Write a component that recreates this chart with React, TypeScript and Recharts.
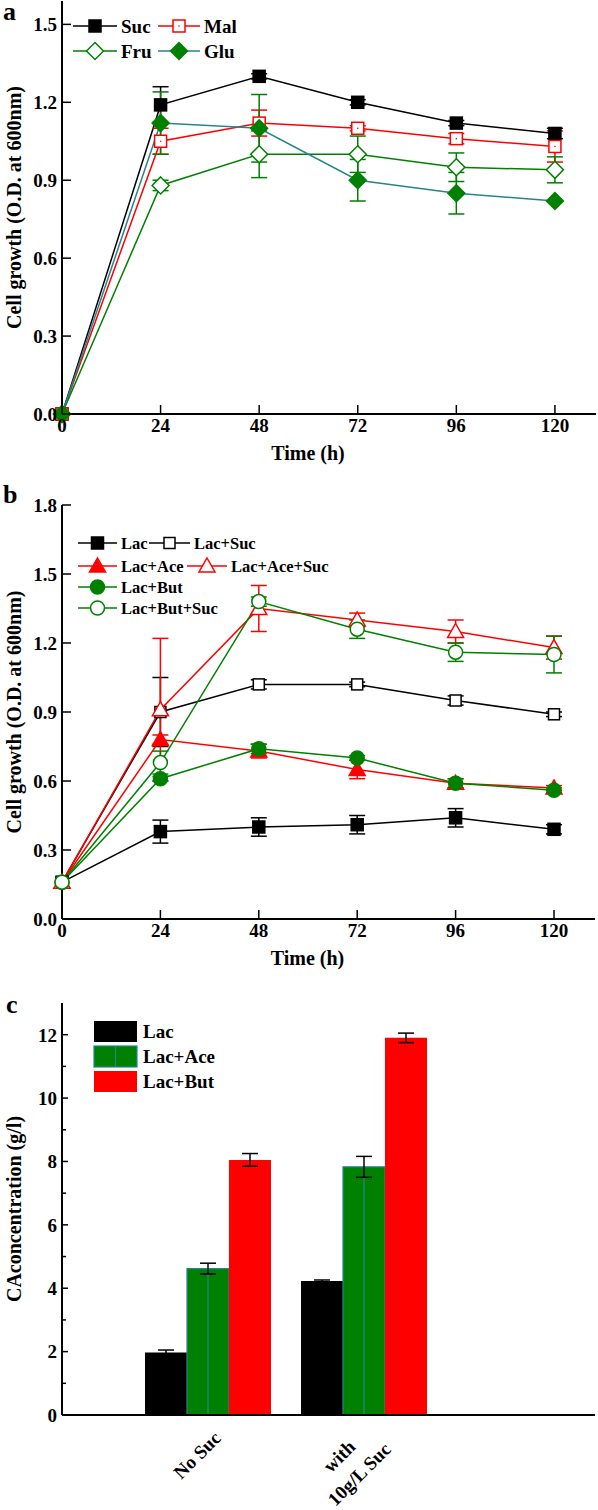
import React from "react";
import { Bar, BarChart, ErrorBar, Line, LineChart, XAxis, YAxis } from "recharts";

const FONT = "'Liberation Serif', 'Times New Roman', serif";

// shared time points (h)
const hours = [0, 24, 48, 72, 96, 120];

// panel a: growth on single sugars
const suc = [0, 1.19, 1.3, 1.2, 1.12, 1.08];
const sucErr = [0, 0.07, 0.01, 0.01, 0.01, 0.02];
const mal = [0, 1.05, 1.12, 1.1, 1.06, 1.03];
const malErr = [0, 0.05, 0.05, 0.01, 0.02, 0.06];
const fru = [0, 0.88, 1.0, 1.0, 0.95, 0.94];
const fruErr = [0, 0.02, 0.09, 0.07, 0.055, 0.05];
const glu = [0, 1.12, 1.1, 0.9, 0.85, 0.82];
const gluErr = [0, 0.12, 0.13, 0.08, 0.08, 0];

// panel b: lactate mixes
const lac = [0.16, 0.38, 0.4, 0.41, 0.44, 0.39];
const lacErr = [0, 0.05, 0.04, 0.04, 0.04, 0.02];
const lacSuc = [0.16, 0.9, 1.02, 1.02, 0.95, 0.89];
const lacSucErr = [0, 0.15, 0.02, 0.01, 0.02, 0.01];
const lacAce = [0.16, 0.78, 0.73, 0.65, 0.59, 0.57];
const lacAceErr = [0, 0.02, 0.03, 0.04, 0.02, 0.01];
const lacAceSuc = [0.16, 0.91, 1.35, 1.3, 1.25, 1.18];
const lacAceSucErr = [0, 0.31, 0.1, 0.03, 0.05, 0.05];
const lacBut = [0.16, 0.61, 0.74, 0.7, 0.59, 0.56];
const lacButErr = [0, 0.01, 0.02, 0.01, 0.02, 0.01];
const lacButSuc = [0.16, 0.68, 1.38, 1.26, 1.16, 1.15];
const lacButSucErr = [0, 0.05, 0.02, 0.04, 0.04, 0.08];

// panel c: CA concentration (g/l)
const groups = ["No Suc", "with\n10g/L Suc"];
const caLac = [1.97, 4.23];
const caLacErr = [0.08, 0.03];
const caAce = [4.62, 7.83];
const caAceErr = [0.17, 0.33];
const caBut = [8.05, 11.9];
const caButErr = [0.2, 0.15];

const timeTicks = [0, 24, 48, 72, 96, 120];
const yTicksA = [0, 0.3, 0.6, 0.9, 1.2, 1.5];
const yTicksB = [0, 0.3, 0.6, 0.9, 1.2, 1.5, 1.8];
const yTicksC = [0, 1, 2, 3, 4, 5, 6, 7, 8, 9, 10, 11, 12];

const dataA = hours.map((h, i) => ({
  h,
  suc: suc[i], sucErr: sucErr[i],
  mal: mal[i], malErr: malErr[i],
  fru: fru[i], fruErr: fruErr[i],
  glu: glu[i], gluErr: gluErr[i],
}));

const dataB = hours.map((h, i) => ({
  h,
  lac: lac[i], lacErr: lacErr[i],
  lacSuc: lacSuc[i], lacSucErr: lacSucErr[i],
  lacAce: lacAce[i], lacAceErr: lacAceErr[i],
  lacAceSuc: lacAceSuc[i], lacAceSucErr: lacAceSucErr[i],
  lacBut: lacBut[i], lacButErr: lacButErr[i],
  lacButSuc: lacButSuc[i], lacButSucErr: lacButSucErr[i],
}));

const dataC = groups.map((g, i) => ({
  g,
  lac: caLac[i], lacErr: caLacErr[i],
  ace: caAce[i], aceErr: caAceErr[i],
  but: caBut[i], butErr: caButErr[i],
}));

const RED = "#ff0000";
const GREEN = "#008000";
const TEAL = "#23858f";

type Kind = "square" | "diamond" | "triangle" | "circle";
interface Style {
  key: string;
  name: string;
  line: string;
  color: string;
  kind: Kind;
  filled: boolean;
  size: number;
  centerDot?: boolean;
}

const seriesA: Style[] = [
  { key: "suc", name: "Suc", line: "#000", color: "#000", kind: "square", filled: true, size: 12 },
  { key: "mal", name: "Mal", line: RED, color: RED, kind: "square", filled: false, size: 12, centerDot: true },
  { key: "fru", name: "Fru", line: GREEN, color: GREEN, kind: "diamond", filled: false, size: 17 },
  { key: "glu", name: "Glu", line: TEAL, color: GREEN, kind: "diamond", filled: true, size: 17 },
];

const seriesB: Style[] = [
  { key: "lac", name: "Lac", line: "#000", color: "#000", kind: "square", filled: true, size: 12 },
  { key: "lacSuc", name: "Lac+Suc", line: "#000", color: "#000", kind: "square", filled: false, size: 11 },
  { key: "lacAce", name: "Lac+Ace", line: RED, color: RED, kind: "triangle", filled: true, size: 16 },
  { key: "lacAceSuc", name: "Lac+Ace+Suc", line: RED, color: RED, kind: "triangle", filled: false, size: 16 },
  { key: "lacBut", name: "Lac+But", line: GREEN, color: GREEN, kind: "circle", filled: true, size: 14 },
  { key: "lacButSuc", name: "Lac+But+Suc", line: GREEN, color: GREEN, kind: "circle", filled: false, size: 14 },
];

function Marker({ cx, cy, s }: { cx: number; cy: number; s: Style }) {
  if (cx == null || cy == null) return null;
  const fill = s.filled ? s.color : "#fff";
  const h = s.size / 2;
  const common = { fill, stroke: s.color, strokeWidth: 1.5 };
  if (s.kind === "square") {
    return (
      <g>
        <rect x={cx - h} y={cy - h} width={s.size} height={s.size} {...common} />
        {s.centerDot && <circle cx={cx} cy={cy} r={0.8} fill={s.color} />}
      </g>
    );
  }
  if (s.kind === "diamond") {
    return <polygon points={`${cx},${cy - h} ${cx + h},${cy} ${cx},${cy + h} ${cx - h},${cy}`} {...common} />;
  }
  if (s.kind === "triangle") {
    return <polygon points={`${cx},${cy - h} ${cx + h},${cy + h * 0.75} ${cx - h},${cy + h * 0.75}`} {...common} />;
  }
  return <circle cx={cx} cy={cy} r={h} {...common} />;
}

const tickText = { fontFamily: FONT, fontWeight: "bold" as const, fontSize: 19, fill: "#000" };

function YTick({ x, y, payload, digits, len, minorLen }: any) {
  const v = payload.value as number;
  const minor = minorLen != null && v % 2 === 1;
  return (
    <g>
      <line x1={x} x2={x + (minor ? minorLen : len)} y1={y} y2={y} stroke="#000" strokeWidth={1.5} />
      {!minor && (
        <text x={x - 5} y={y} dy="0.36em" textAnchor="end" {...tickText}>
          {digits != null ? v.toFixed(digits) : v}
        </text>
      )}
    </g>
  );
}

function XTick({ x, y, payload, len }: any) {
  return (
    <g>
      <line x1={x} x2={x} y1={y} y2={y - len} stroke="#000" strokeWidth={1.5} />
      <text x={x} y={y + 18} textAnchor="middle" {...tickText}>
        {payload.value}
      </text>
    </g>
  );
}

function GroupTick({ x, y, payload }: any) {
  const lines = String(payload.value).split("\n");
  const n = lines.length;
  return (
    <g>
      {lines.map((t, i) => {
        const cx = x - 11 - 14 * (n - 1) + 20 * i;
        const cy = y + 40 + 1 * (n - 1) + 18 * i;
        return (
          <text
            key={i}
            transform={`translate(${cx},${cy}) rotate(-45)`}
            textAnchor="middle"
            dy="0.35em"
            {...tickText}
          >
            {t}
          </text>
        );
      })}
    </g>
  );
}

const titleStyle = { fontFamily: FONT, fontWeight: "bold" as const, fontSize: 20, fill: "#000" };

const yTitle = (text: string) => (props: any) => {
  const vb = props.viewBox || {};
  const cy = (vb.y ?? 0) + (vb.height ?? 0) / 2;
  return (
    <text transform={`translate(14,${cy}) rotate(-90)`} textAnchor="middle" dominantBaseline="central" {...titleStyle}>
      {text}
    </text>
  );
};

const xTitle = (text: string) => (props: any) => {
  const vb = props.viewBox || {};
  const cx = (vb.x ?? 0) + (vb.width ?? 0) / 2 - 21;
  return (
    <text x={cx} y={(vb.y ?? 0) + 46} textAnchor="middle" {...titleStyle}>
      {text}
    </text>
  );
};

const frameAxes = () => [
  <XAxis
    key="top"
    xAxisId="top"
    orientation="top"
    height={0}
    tick={false}
    tickLine={false}
    axisLine={{ stroke: "#000", strokeWidth: 2 }}
  />,
  <YAxis
    key="right"
    yAxisId="right"
    orientation="right"
    width={0}
    tick={false}
    tickLine={false}
    axisLine={{ stroke: "#000", strokeWidth: 2 }}
  />,
];

function LineLegend({ items, fontSize }: { items: { s: Style; x: number; y: number; w: number }[]; fontSize: number }) {
  return (
    <svg width={598} height={140} style={{ position: "absolute", left: 0, top: 0, overflow: "visible" }}>
      {items.map(({ s, x, y, w }) => (
        <g key={s.key}>
          <line x1={x} x2={x + w} y1={y} y2={y} stroke={s.line} strokeWidth={1.5} />
          <Marker cx={x + w / 2} cy={y} s={s} />
          <text x={x + w + 4} y={y} dy="0.35em" fontFamily={FONT} fontWeight="bold" fontSize={fontSize} fill="#000">
            {s.name}
          </text>
        </g>
      ))}
    </svg>
  );
}

function seriesLines(list: Style[]) {
  return list.map((s) => (
    <Line
      key={s.key}
      type="linear"
      dataKey={s.key}
      stroke={s.line}
      strokeWidth={1.5}
      isAnimationActive={false}
      activeDot={false}
      dot={(p: any) => <Marker key={`${s.key}-${p.index}`} cx={p.cx} cy={p.cy} s={s} />}
    >
      <ErrorBar dataKey={`${s.key}Err`} direction="y" width={8} stroke={s.color} strokeWidth={1.5} isAnimationActive={false} />
    </Line>
  ));
}

function GreenBar(p: any) {
  const { x, y, width, height } = p;
  if (height == null || height <= 0) return null;
  return (
    <g>
      <rect x={x} y={y} width={width} height={height} fill={GREEN} stroke={TEAL} strokeWidth={1.2} />
      <line x1={x + width / 2} x2={x + width / 2} y1={y} y2={y + height} stroke={TEAL} strokeWidth={1.2} />
    </g>
  );
}

const panelLetter = (ch: string, top: number, left: number) => (
  <div
    style={{
      position: "absolute",
      left,
      top,
      fontFamily: FONT,
      fontWeight: "bold",
      fontSize: 26,
      lineHeight: "26px",
    }}
  >
    {ch}
  </div>
);

export default function App() {
  const axisLine = { stroke: "#000", strokeWidth: 2 };
  return (
    <div style={{ position: "absolute", left: 0, top: 0, width: 598, height: 1510, background: "#fff" }}>
      {/* panel a */}
      <div style={{ position: "absolute", left: 0, top: 0 }}>
        <LineChart width={598} height={470} data={dataA} margin={{ top: 1, right: 2, bottom: 0, left: 0 }}>
          <XAxis
            dataKey="h"
            type="number"
            domain={[0, 130]}
            ticks={timeTicks}
            height={56}
            tickSize={0}
            tickMargin={0}
            tickLine={false}
            axisLine={axisLine}
            tick={(p: any) => <XTick {...p} len={9} />}
            label={xTitle("Time (h)")}
          />
          <YAxis
            type="number"
            domain={[0, 1.59]}
            ticks={yTicksA}
            width={62}
            tickSize={0}
            tickMargin={0}
            tickLine={false}
            axisLine={axisLine}
            tick={(p: any) => <YTick {...p} digits={1} len={9} />}
            label={yTitle("Cell growth (O.D. at 600nm)")}
          />
          {frameAxes()}
          {seriesLines(seriesA)}
        </LineChart>
        <LineLegend
          fontSize={19}
          items={[
            { s: seriesA[0], x: 73, y: 26, w: 44 },
            { s: seriesA[1], x: 158, y: 26, w: 42 },
            { s: seriesA[2], x: 73, y: 51, w: 44 },
            { s: seriesA[3], x: 158, y: 51, w: 42 },
          ]}
        />
        {panelLetter("a", -1, 3)}
      </div>

      {/* panel b */}
      <div style={{ position: "absolute", left: 0, top: 480 }}>
        <LineChart width={598} height={490} data={dataB} margin={{ top: 25, right: 3, bottom: 0, left: 0 }}>
          <XAxis
            dataKey="h"
            type="number"
            domain={[0, 130]}
            ticks={timeTicks}
            height={51}
            tickSize={0}
            tickMargin={0}
            tickLine={false}
            axisLine={axisLine}
            tick={(p: any) => <XTick {...p} len={9} />}
            label={xTitle("Time (h)")}
          />
          <YAxis
            type="number"
            domain={[0, 1.8]}
            ticks={yTicksB}
            width={62}
            tickSize={0}
            tickMargin={0}
            tickLine={false}
            axisLine={axisLine}
            tick={(p: any) => <YTick {...p} digits={1} len={9} />}
            label={yTitle("Cell growth (O.D. at 600nm)")}
          />
          {frameAxes()}
          {seriesLines(seriesB)}
        </LineChart>
        <LineLegend
          fontSize={16.5}
          items={[
            { s: seriesB[0], x: 78, y: 63, w: 39 },
            { s: seriesB[1], x: 149, y: 63, w: 41 },
            { s: seriesB[2], x: 78, y: 86, w: 39 },
            { s: seriesB[3], x: 187, y: 86, w: 40 },
            { s: seriesB[4], x: 78, y: 107, w: 39 },
            { s: seriesB[5], x: 78, y: 128, w: 39 },
          ]}
        />
        {panelLetter("b", 2, 3)}
      </div>

      {/* panel c */}
      <div style={{ position: "absolute", left: 0, top: 990 }}>
        <BarChart
          width={598}
          height={520}
          data={dataC}
          margin={{ top: 13, right: 3, bottom: 0, left: 0 }}
          barCategoryGap={15}
          barGap={0}
        >
          <XAxis
            dataKey="g"
            type="category"
            padding={{ left: 68, right: 153 }}
            height={95}
            tickSize={0}
            tickMargin={0}
            tickLine={false}
            axisLine={axisLine}
            tick={(p: any) => <GroupTick {...p} />}
          />
          <YAxis
            type="number"
            domain={[0, 13]}
            ticks={yTicksC}
            width={62}
            tickSize={0}
            tickMargin={0}
            tickLine={false}
            axisLine={axisLine}
            tick={(p: any) => <YTick {...p} len={6} minorLen={4} />}
            label={yTitle("CAconcentration (g/l)")}
          />
          {frameAxes()}
          <Bar dataKey="lac" fill="#000" isAnimationActive={false}>
            <ErrorBar dataKey="lacErr" direction="y" width={8} stroke="#000" strokeWidth={1.5} />
          </Bar>
          <Bar dataKey="ace" fill={GREEN} shape={GreenBar} isAnimationActive={false}>
            <ErrorBar dataKey="aceErr" direction="y" width={8} stroke="#000" strokeWidth={1.5} />
          </Bar>
          <Bar dataKey="but" fill={RED} isAnimationActive={false}>
            <ErrorBar dataKey="butErr" direction="y" width={8} stroke="#000" strokeWidth={1.5} />
          </Bar>
        </BarChart>
        <svg width={300} height={120} style={{ position: "absolute", left: 0, top: 0 }}>
          {[
            { name: "Lac", y: 31, fill: "#000" },
            { name: "Lac+Ace", y: 56, fill: GREEN },
            { name: "Lac+But", y: 81, fill: RED },
          ].map((it) => (
            <g key={it.name}>
              {it.fill === GREEN ? (
                <GreenBar x={94} y={it.y} width={43} height={21} />
              ) : (
                <rect x={94} y={it.y} width={43} height={21} fill={it.fill} />
              )}
              <text x={143} y={it.y + 10.5} dy="0.35em" fontFamily={FONT} fontWeight="bold" fontSize={19} fill="#000">
                {it.name}
              </text>
            </g>
          ))}
        </svg>
        {panelLetter("c", 2, 6)}
      </div>
    </div>
  );
}
